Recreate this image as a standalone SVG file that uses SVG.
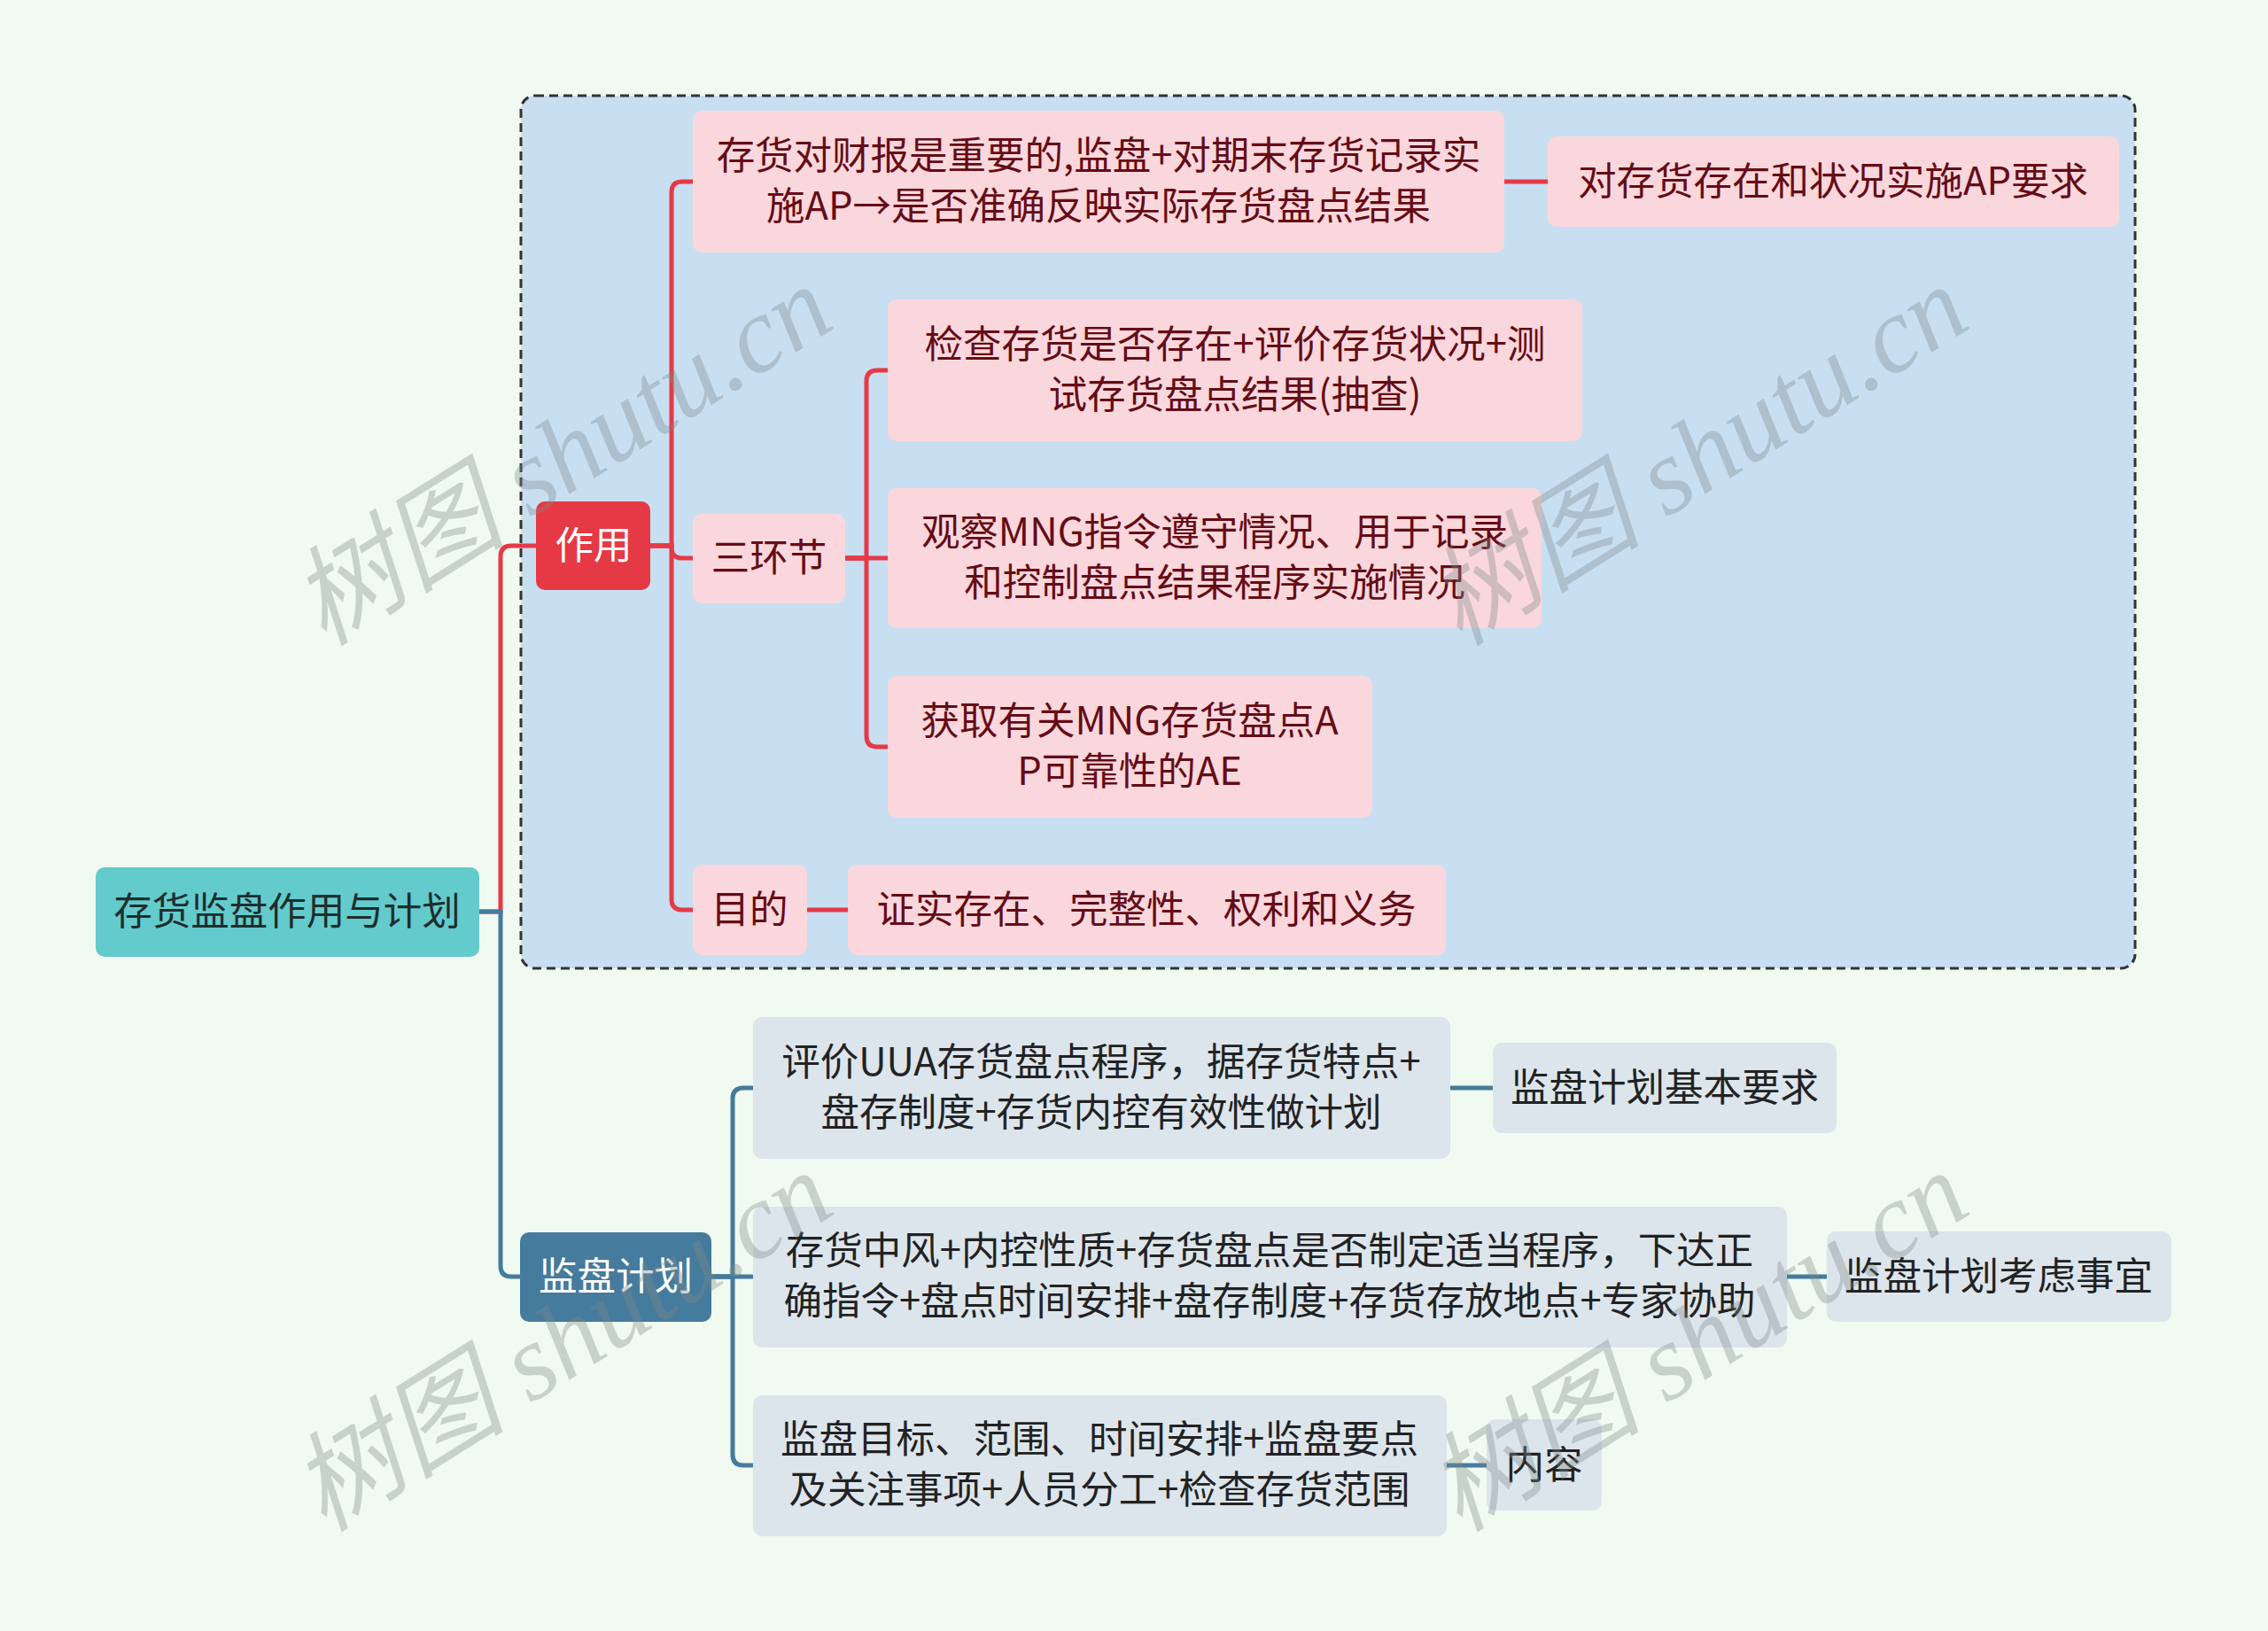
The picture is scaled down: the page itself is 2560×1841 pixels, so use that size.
<svg xmlns="http://www.w3.org/2000/svg" width="2560" height="1841" viewBox="0 0 2560 1841">
<style>
text{font-family:"Noto Sans CJK SC","Noto Sans",sans-serif;font-size:43.5px;text-anchor:middle;dominant-baseline:central}
.pink{fill:#FAD7DC}
.gray{fill:#DCE5EC}
.tp{fill:#650C16}
.tg{fill:#222222}
.tw{fill:#FFFFFF}
.red{fill:none;stroke:#E63946;stroke-width:5}
.blue{fill:none;stroke:#457B9D;stroke-width:5}
.wm{font-family:"Liberation Serif","Noto Sans CJK SC",serif;font-style:italic;font-size:122px;fill:#7f8a8a;fill-opacity:0.36;text-anchor:middle}
</style>
<rect x="0" y="0" width="2560" height="1841" fill="#F0FAF0"/>
<rect id="boundary" x="588" y="108" width="1822" height="985" rx="16" fill="#C8DFF2" stroke="#333" stroke-width="3" stroke-dasharray="10 6"/>
<g id="connectors">
<path class="red" d="M541,1029 H565 V628 Q565,616 577,616 H605"/>
<path class="blue" d="M541,1029 H565 V1429 Q565,1441 577,1441 H587"/>
<path class="red" d="M734,616 H758 V217 Q758,205 770,205 H782"/>
<path class="red" d="M734,616 H758 V618 Q758,630 770,630 H782"/>
<path class="red" d="M734,616 H758 V1015 Q758,1027 770,1027 H782"/>
<path class="red" d="M954,630 H978 V430 Q978,418 990,418 H1002"/>
<path class="red" d="M954,630 H1002"/>
<path class="red" d="M954,630 H978 V831 Q978,843 990,843 H1002"/>
<path class="red" d="M1698,205 H1747"/>
<path class="red" d="M911,1027 H957"/>
<path class="blue" d="M803,1441 H827 V1240 Q827,1228 839,1228 H850"/>
<path class="blue" d="M803,1441 H850"/>
<path class="blue" d="M803,1441 H827 V1642 Q827,1654 839,1654 H850"/>
<path class="blue" d="M1637,1228 H1685"/>
<path class="blue" d="M2017,1441 H2062"/>
<path class="blue" d="M1633,1654 H1678"/>
</g>
<g id="root"><rect x="108" y="979" width="433" height="101" rx="10" fill="#63CBCB"/><text x="324" y="1025" fill="#1E2E2E">存货监盘作用与计划</text></g>
<g id="zuoyong"><rect x="605" y="566" width="129" height="100" rx="10" fill="#E63946"/><text class="tw" x="670" y="612">作用</text></g>
<g id="jianpan"><rect x="587" y="1391" width="216" height="101" rx="10" fill="#457B9D"/><text class="tw" x="695" y="1437">监盘计划</text></g>
<g id="n1"><rect class="pink" x="782" y="125" width="916" height="160" rx="10"/><text class="tp" x="1240" y="172">存货对财报是重要的,监盘+对期末存货记录实</text><text class="tp" x="1240" y="229">施AP→是否准确反映实际存货盘点结果</text></g>
<g id="n1a"><rect class="pink" x="1747" y="154" width="645" height="102" rx="10"/><text class="tp" x="2069" y="201">对存货存在和状况实施AP要求</text></g>
<g id="n2"><rect class="pink" x="782" y="580" width="172" height="101" rx="10"/><text class="tp" x="868" y="626">三环节</text></g>
<g id="n2a"><rect class="pink" x="1002" y="338" width="784" height="160" rx="10"/><text class="tp" x="1394" y="385">检查存货是否存在+评价存货状况+测</text><text class="tp" x="1394" y="442">试存货盘点结果(抽查)</text></g>
<g id="n2b"><rect class="pink" x="1002" y="551" width="738" height="158" rx="10"/><text class="tp" x="1371" y="597">观察MNG指令遵守情况、用于记录</text><text class="tp" x="1371" y="654">和控制盘点结果程序实施情况</text></g>
<g id="n2c"><rect class="pink" x="1002" y="763" width="547" height="160" rx="10"/><text class="tp" x="1275" y="810">获取有关MNG存货盘点A</text><text class="tp" x="1275" y="867">P可靠性的AE</text></g>
<g id="n3"><rect class="pink" x="782" y="976" width="129" height="102" rx="10"/><text class="tp" x="846" y="1023">目的</text></g>
<g id="n3a"><rect class="pink" x="957" y="976" width="675" height="102" rx="10"/><text class="tp" x="1294" y="1023">证实存在、完整性、权利和义务</text></g>
<g id="p1"><rect class="gray" x="850" y="1148" width="787" height="160" rx="10"/><text class="tg" x="1243" y="1195">评价UUA存货盘点程序，据存货特点+</text><text class="tg" x="1243" y="1252">盘存制度+存货内控有效性做计划</text></g>
<g id="p1a"><rect class="gray" x="1685" y="1177" width="388" height="102" rx="10"/><text class="tg" x="1879" y="1224">监盘计划基本要求</text></g>
<g id="p2"><rect class="gray" x="850" y="1362" width="1167" height="159" rx="10"/><text class="tg" x="1433" y="1408">存货中风+内控性质+存货盘点是否制定适当程序，下达正</text><text class="tg" x="1433" y="1465">确指令+盘点时间安排+盘存制度+存货存放地点+专家协助</text></g>
<g id="p2a"><rect class="gray" x="2062" y="1390" width="389" height="102" rx="10"/><text class="tg" x="2256" y="1437">监盘计划考虑事宜</text></g>
<g id="p3"><rect class="gray" x="850" y="1575" width="783" height="159" rx="10"/><text class="tg" x="1241" y="1621">监盘目标、范围、时间安排+监盘要点</text><text class="tg" x="1241" y="1678">及关注事项+人员分工+检查存货范围</text></g>
<g id="p3a"><rect class="gray" x="1678" y="1602" width="130" height="103" rx="10"/><text class="tg" x="1743" y="1650">内容</text></g>
<g id="watermarks">
<text class="wm" transform="translate(634,514) rotate(-32)">树图 shutu.cn</text>
<text class="wm" transform="translate(1916,514) rotate(-32)">树图 shutu.cn</text>
<text class="wm" transform="translate(634,1514) rotate(-32)">树图 shutu.cn</text>
<text class="wm" transform="translate(1916,1514) rotate(-32)">树图 shutu.cn</text>
</g>
</svg>
